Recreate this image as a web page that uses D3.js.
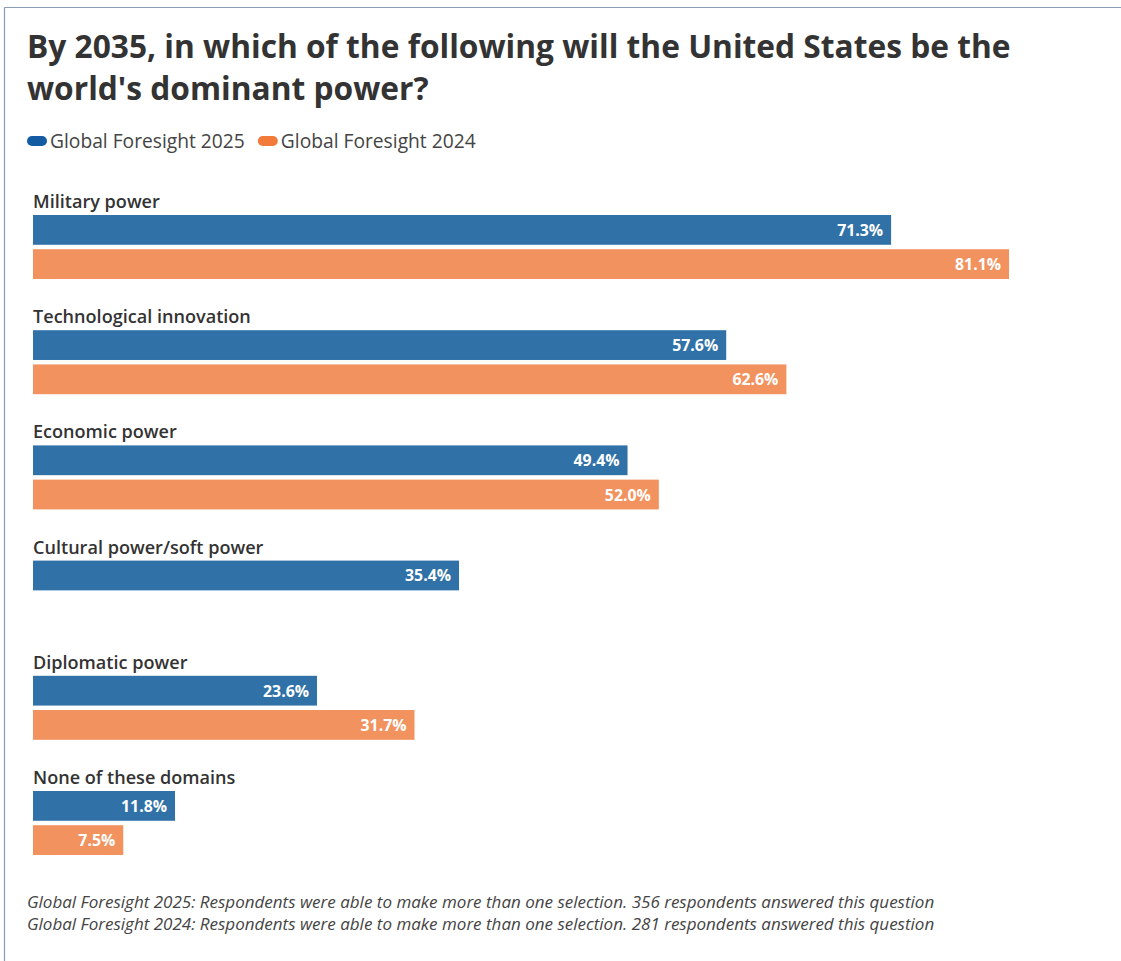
<!DOCTYPE html>
<html>
<head>
<meta charset="utf-8">
<script src="https://cdn.jsdelivr.net/npm/d3@7"></script>
<style>
  html, body { margin: 0; padding: 0; background: #fff; }
  svg { display: block; }
  text { font-family: "Open Sans", Lato, sans-serif; }
</style>
</head>
<body>
<svg id="chart" width="1121" height="961"></svg>
<script>
// Survey answers, percent of respondents
const categories = [
  "Military power",
  "Technological innovation",
  "Economic power",
  "Cultural power/soft power",
  "Diplomatic power",
  "None of these domains"
];
const seriesNames = ["Global Foresight 2025", "Global Foresight 2024"];
const values2025 = [71.3, 57.6, 49.4, 35.4, 23.6, 11.8];
const values2024 = [81.1, 62.6, 52.0, null, 31.7, 7.5];
const titleLines = [
  "By 2035, in which of the following will the United States be the",
  "world's dominant power?"
];
const notes = [
  "Global Foresight 2025: Respondents were able to make more than one selection. 356 respondents answered this question",
  "Global Foresight 2024: Respondents were able to make more than one selection. 281 respondents answered this question"
];

const barColors = ["#3072a8", "#f2925f"];
const legendColors = ["#135ca3", "#f27b3c"];

const svg = d3.select("#chart");

// pick a font size so that a sample string spans the wanted width
function fitSize(sample, width, weight, style) {
  const t = svg.append("text").attr("font-size", 100)
    .attr("font-weight", weight).attr("font-style", style || "normal").text(sample);
  const w = t.node().getComputedTextLength();
  t.remove();
  return 100 * width / w;
}

const titleSize = fitSize(titleLines[0], 984, 700);
const legendSize = fitSize(seriesNames[0], 195, 400);
const catSize = fitSize(categories[1], 218, 600);
const valueSize = fitSize("71.3%", 46, 700);
const noteSize = fitSize(notes[0], 908, 400, "italic");

// frame lines on the top and left edges
svg.append("line").attr("x1", 4.5).attr("x2", 1121).attr("y1", 7.5).attr("y2", 7.5)
  .attr("stroke", "#8a9bb5").attr("stroke-width", 1.2);
svg.append("line").attr("x1", 4.5).attr("x2", 4.5).attr("y1", 7.5).attr("y2", 961)
  .attr("stroke", "#8a9bb5").attr("stroke-width", 1.2);

// title
svg.append("g").selectAll("text").data(titleLines).join("text")
  .attr("x", 27)
  .attr("y", (d, i) => 58 + i * 42)
  .attr("font-size", titleSize)
  .attr("font-weight", 700)
  .attr("fill", "#333")
  .text(d => d);

// legend
const legend = svg.append("g").attr("transform", "translate(27,141)");
let lx = 0;
seriesNames.forEach((name, i) => {
  const g = legend.append("g").attr("transform", `translate(${lx},0)`);
  g.append("rect").attr("x", 0).attr("y", -5).attr("width", 20).attr("height", 10)
    .attr("rx", 5).attr("fill", legendColors[i]);
  const t = g.append("text").attr("x", 23).attr("y", 6.5)
    .attr("font-size", legendSize).attr("fill", "#444").text(name);
  lx += 23 + t.node().getComputedTextLength() + 13;
});

// scales
const x = d3.scaleLinear().domain([0, 100]).range([33, 1236.5]);
const y = d3.scaleBand().domain(categories).range([215, 215 + 6 * 115.2]).paddingInner(0);
const ySeries = d3.scaleBand().domain(seriesNames).range([0, 64]).paddingInner(0.13);

const rows = categories.map((c, i) => ({
  category: c,
  bars: [
    { series: seriesNames[0], value: values2025[i] },
    { series: seriesNames[1], value: values2024[i] }
  ].filter(b => b.value !== null)
}));

const groups = svg.append("g").selectAll("g").data(rows).join("g")
  .attr("transform", d => `translate(0,${y(d.category)})`);

groups.append("text")
  .attr("x", 33)
  .attr("y", -7)
  .attr("font-size", catSize)
  .attr("font-weight", 600)
  .attr("fill", "#333")
  .text(d => d.category);

const bar = groups.selectAll("g.bar").data(d => d.bars).join("g").attr("class", "bar");

bar.append("rect")
  .attr("x", x(0))
  .attr("y", d => ySeries(d.series))
  .attr("width", d => x(d.value) - x(0))
  .attr("height", ySeries.bandwidth())
  .attr("fill", d => barColors[seriesNames.indexOf(d.series)]);

bar.append("text")
  .attr("x", d => x(d.value) - 8)
  .attr("y", d => ySeries(d.series) + ySeries.bandwidth() / 2 + 6)
  .attr("text-anchor", "end")
  .attr("font-size", valueSize)
  .attr("font-weight", 700)
  .attr("fill", "#fff")
  .text(d => d.value.toFixed(1) + "%");

// footnotes
svg.append("g").selectAll("text").data(notes).join("text")
  .attr("x", 27)
  .attr("y", (d, i) => 908 + i * 21.5)
  .attr("font-size", noteSize)
  .attr("font-style", "italic")
  .attr("fill", "#444")
  .text(d => d);
</script>
</body>
</html>
